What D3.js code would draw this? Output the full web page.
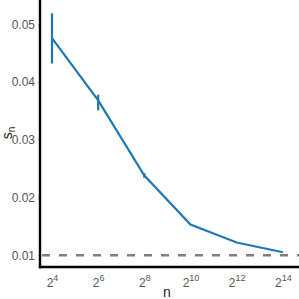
<!DOCTYPE html>
<html><head><meta charset="utf-8">
<script src="https://cdn.jsdelivr.net/npm/d3@7"></script>
<style>body{margin:0;background:#fff}svg{display:block}</style>
</head><body>
<svg id="c" width="299" height="299"></svg>
<script>
const exponents = [4, 6, 8, 10, 12, 14];
const values = [0.0476, 0.0368, 0.0238, 0.0153, 0.0122, 0.0105];
const errLow = [0.0432, 0.0351, 0.0234, 0.0153, 0.0122, 0.0105];
const errHigh = [0.0519, 0.0378, 0.0242, 0.0153, 0.0122, 0.0105];
const yTicks = [0.01, 0.02, 0.03, 0.04, 0.05];
const xTicks = [4, 6, 8, 10, 12, 14];
const refLine = 0.01;

const svg = d3.select("#c");
const L = 40, R = 299, T = 0, B = 267;
const x = d3.scaleLinear().domain([3.48, 14.7]).range([L, R]);
const y = d3.scaleLinear().domain([0.00795, 0.0542]).range([B, T]);
const font = "Liberation Sans, Arial, sans-serif";

// reference dashed line
svg.append("line").attr("x1", L + 2).attr("x2", R).attr("y1", y(refLine)).attr("y2", y(refLine))
  .attr("stroke", "#7f7f7f").attr("stroke-width", 2.5).attr("stroke-dasharray", "8,9");

// y axis
const ya = svg.append("g").attr("transform", `translate(${L},0)`)
  .call(d3.axisLeft(y).tickValues(yTicks).tickSize(2).tickPadding(3).tickFormat(d3.format(".2f")));
ya.select(".domain").remove();
ya.selectAll("line").attr("stroke", "#aaa");
ya.selectAll("text").attr("font-family", font).attr("font-size", 12).attr("fill", "#555");

// x axis
const xa = svg.append("g").attr("transform", `translate(0,${B})`)
  .call(d3.axisBottom(x).tickValues(xTicks).tickSize(0).tickPadding(10).tickFormat(""));
xa.select(".domain").remove();
xa.selectAll(".tick").each(function(d) {
  const t = d3.select(this).select("text").text(null)
    .attr("font-family", font).attr("fill", "#555").attr("dy", "0.95em");
  t.append("tspan").attr("font-size", 12).text("2");
  t.append("tspan").attr("font-size", 9).attr("dy", "-0.65em").text(d);
});

// axis lines
svg.append("line").attr("x1", L).attr("x2", L).attr("y1", T).attr("y2", B + 1.2)
  .attr("stroke", "#000").attr("stroke-width", 2.4);
svg.append("line").attr("x1", L - 1.2).attr("x2", R).attr("y1", B).attr("y2", B)
  .attr("stroke", "#000").attr("stroke-width", 2.4);

const color = "#1f77b4";
const pts = exponents.map((e, i) => ({e, v: values[i], lo: errLow[i], hi: errHigh[i]}));
svg.append("path").datum(pts)
  .attr("d", d3.line().x(d => x(d.e)).y(d => y(d.v)))
  .attr("fill", "none").attr("stroke", color).attr("stroke-width", 2.2);
svg.selectAll(".err").data(pts.filter(d => d.hi > d.lo)).join("line")
  .attr("x1", d => x(d.e)).attr("x2", d => x(d.e))
  .attr("y1", d => y(d.lo)).attr("y2", d => y(d.hi))
  .attr("stroke", color).attr("stroke-width", 2.2);

// labels
svg.append("text").attr("x", 167).attr("y", 297).attr("text-anchor", "middle")
  .attr("font-family", font).attr("font-size", 14).attr("fill", "#222").text("n");
const yl = svg.append("text").attr("transform", "translate(12,133) rotate(-90)").attr("text-anchor", "middle")
  .attr("font-family", font).attr("font-size", 14).attr("fill", "#222");
yl.append("tspan").text("s");
yl.append("tspan").attr("font-size", 10).attr("dy", "0.3em").text("n");
</script>
</body></html>
